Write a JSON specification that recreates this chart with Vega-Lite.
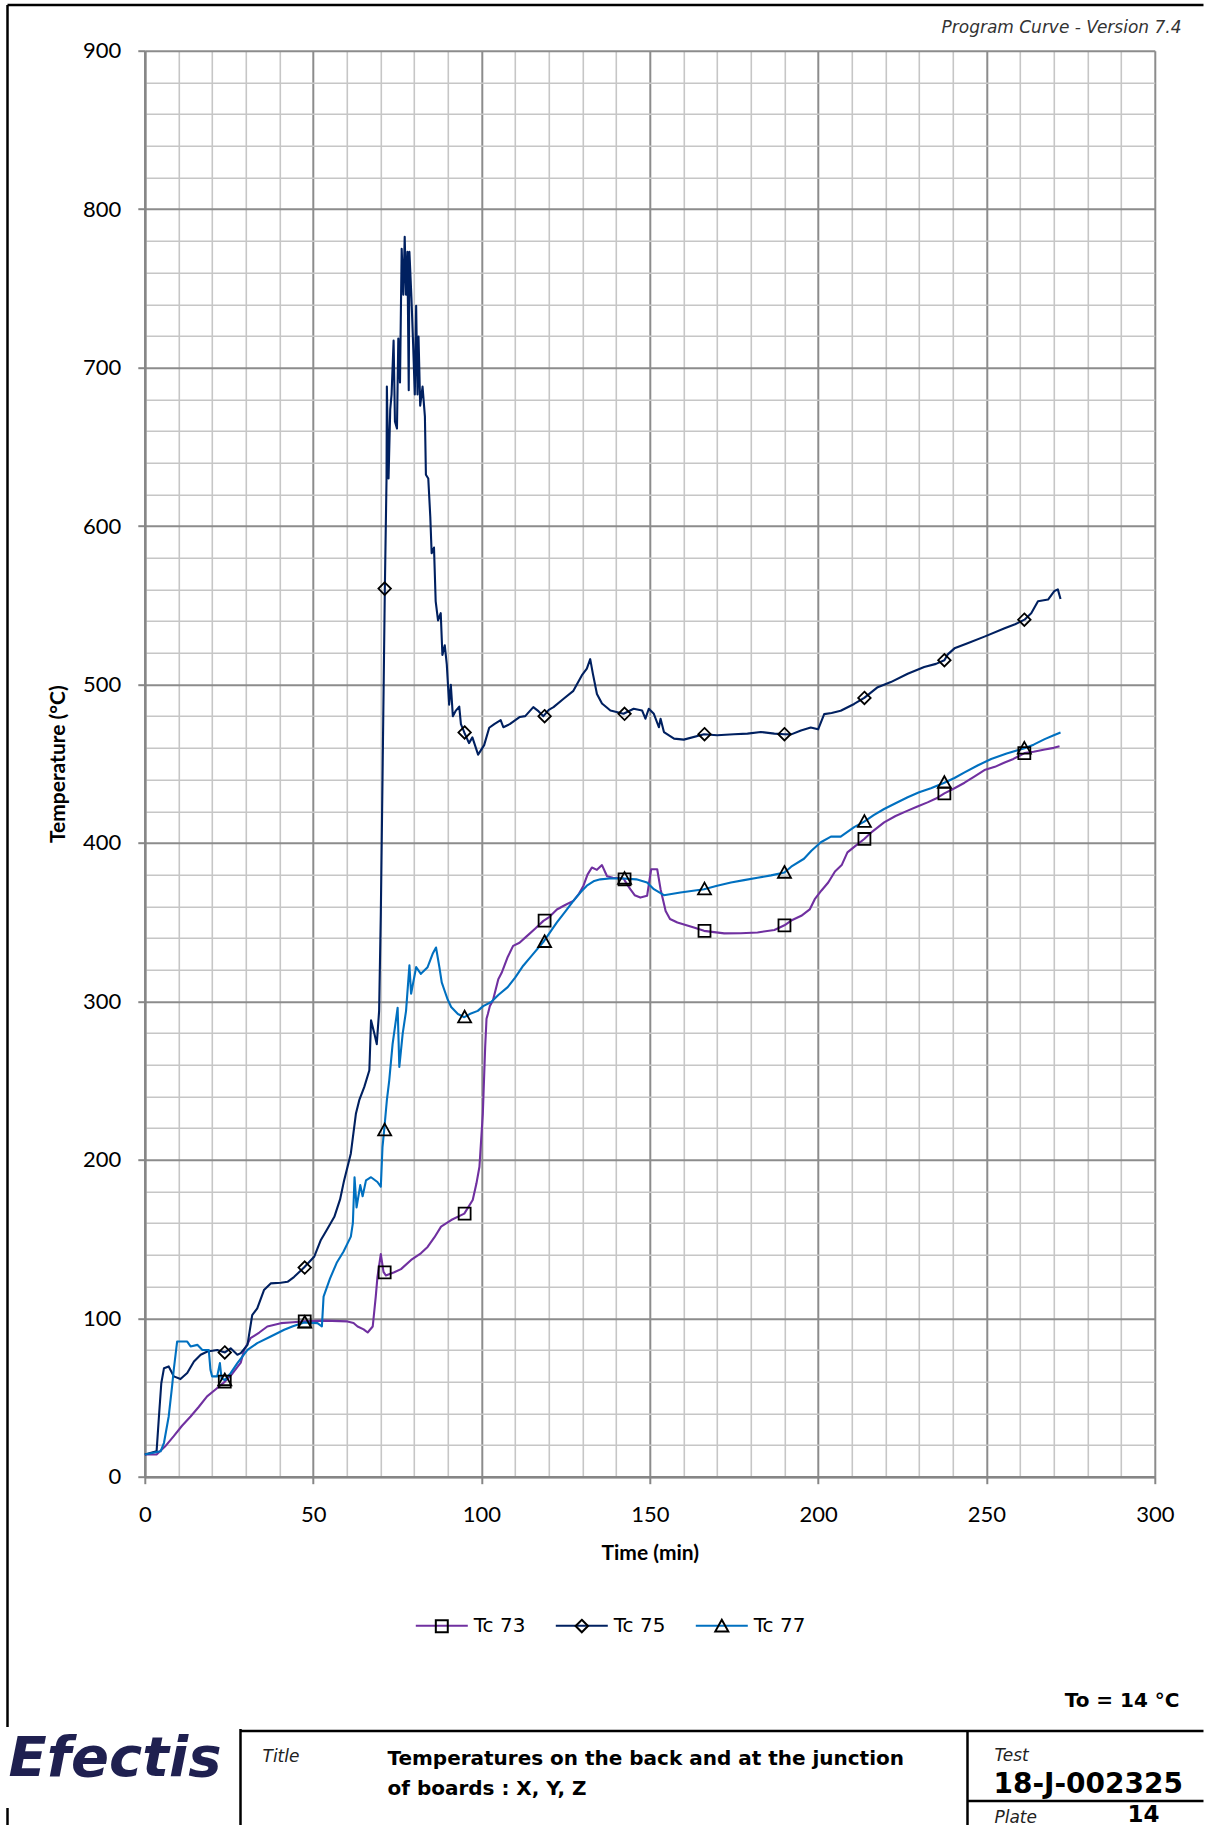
{
 "$schema": "https://vega.github.io/schema/vega-lite/v6.json",
 "background": "white",
 "padding": {"left": 5.8, "top": 3.7, "right": 0, "bottom": 0},
 "config": {"view": {"stroke": null}},
 "spacing": 213.3,
 "bounds": "flush",
 "resolve": {"scale": {"x": "independent", "y": "independent"}},
 "datasets": {
  "temps": [
   {"series":"Tc 73","time_min":0,"temp_c":14},{"series":"Tc 73","time_min":3.5,"temp_c":14},{"series":"Tc 73","time_min":6,"temp_c":19},{"series":"Tc 73","time_min":8.6,"temp_c":25.6},{"series":"Tc 73","time_min":11,"temp_c":32},{"series":"Tc 73","time_min":13.6,"temp_c":38},{"series":"Tc 73","time_min":16,"temp_c":44},{"series":"Tc 73","time_min":18.5,"temp_c":50.7},{"series":"Tc 73","time_min":21,"temp_c":55},{"series":"Tc 73","time_min":23.8,"temp_c":60},{"series":"Tc 73","time_min":26,"temp_c":65},{"series":"Tc 73","time_min":28.5,"temp_c":72},{"series":"Tc 73","time_min":29.5,"temp_c":80},{"series":"Tc 73","time_min":31.4,"temp_c":87.4},{"series":"Tc 73","time_min":34,"temp_c":91},{"series":"Tc 73","time_min":36.4,"temp_c":94.8},{"series":"Tc 73","time_min":40.4,"temp_c":96.9},{"series":"Tc 73","time_min":44,"temp_c":97.5},{"series":"Tc 73","time_min":47.3,"temp_c":98},{"series":"Tc 73","time_min":53.3,"temp_c":98.5},{"series":"Tc 73","time_min":60.2,"temp_c":98},{"series":"Tc 73","time_min":62,"temp_c":97},{"series":"Tc 73","time_min":63.2,"temp_c":94.8},{"series":"Tc 73","time_min":65,"temp_c":93},{"series":"Tc 73","time_min":66.2,"temp_c":91},{"series":"Tc 73","time_min":67.7,"temp_c":94.8},{"series":"Tc 73","time_min":68.6,"temp_c":113.6},{"series":"Tc 73","time_min":69.1,"temp_c":126},{"series":"Tc 73","time_min":70.1,"temp_c":140.5},{"series":"Tc 73","time_min":70.9,"temp_c":129.3},{"series":"Tc 73","time_min":71.6,"temp_c":127},{"series":"Tc 73","time_min":74.1,"temp_c":129},{"series":"Tc 73","time_min":76.1,"temp_c":131},{"series":"Tc 73","time_min":79.1,"temp_c":136.8},{"series":"Tc 73","time_min":82,"temp_c":141},{"series":"Tc 73","time_min":84,"temp_c":145},{"series":"Tc 73","time_min":86,"temp_c":151},{"series":"Tc 73","time_min":88,"temp_c":157.8},{"series":"Tc 73","time_min":91,"temp_c":162},{"series":"Tc 73","time_min":94.9,"temp_c":166},{"series":"Tc 73","time_min":97.4,"temp_c":174.6},{"series":"Tc 73","time_min":98.5,"temp_c":185},{"series":"Tc 73","time_min":99.4,"temp_c":195.6},{"series":"Tc 73","time_min":100.4,"temp_c":229},{"series":"Tc 73","time_min":101.1,"temp_c":271},{"series":"Tc 73","time_min":101.5,"temp_c":289},{"series":"Tc 73","time_min":101.9,"temp_c":292},{"series":"Tc 73","time_min":102.5,"temp_c":297},{"series":"Tc 73","time_min":103.4,"temp_c":300.6},{"series":"Tc 73","time_min":105,"temp_c":314},{"series":"Tc 73","time_min":106,"temp_c":318},{"series":"Tc 73","time_min":107.8,"temp_c":328},{"series":"Tc 73","time_min":109.4,"temp_c":335},{"series":"Tc 73","time_min":111.3,"temp_c":337},{"series":"Tc 73","time_min":113.4,"temp_c":341},{"series":"Tc 73","time_min":116,"temp_c":346},{"series":"Tc 73","time_min":118.4,"temp_c":350.8},{"series":"Tc 73","time_min":120,"temp_c":353},{"series":"Tc 73","time_min":122.4,"temp_c":358},{"series":"Tc 73","time_min":125,"temp_c":361},{"series":"Tc 73","time_min":127.3,"temp_c":363.4},{"series":"Tc 73","time_min":129,"temp_c":368},{"series":"Tc 73","time_min":130.3,"temp_c":373},{"series":"Tc 73","time_min":131.5,"temp_c":380},{"series":"Tc 73","time_min":132.8,"temp_c":384.5},{"series":"Tc 73","time_min":134.3,"temp_c":383},{"series":"Tc 73","time_min":135.8,"temp_c":386},{"series":"Tc 73","time_min":137.3,"temp_c":379},{"series":"Tc 73","time_min":139,"temp_c":378},{"series":"Tc 73","time_min":142.2,"temp_c":377.5},{"series":"Tc 73","time_min":143.2,"temp_c":374},{"series":"Tc 73","time_min":144.2,"temp_c":370.8},{"series":"Tc 73","time_min":145.5,"temp_c":367},{"series":"Tc 73","time_min":147.2,"temp_c":365.5},{"series":"Tc 73","time_min":149.2,"temp_c":366.6},{"series":"Tc 73","time_min":149.8,"temp_c":375},{"series":"Tc 73","time_min":150.4,"temp_c":383.4},{"series":"Tc 73","time_min":152.2,"temp_c":383.4},{"series":"Tc 73","time_min":153.2,"temp_c":370.8},{"series":"Tc 73","time_min":154.7,"temp_c":357},{"series":"Tc 73","time_min":156,"temp_c":352},{"series":"Tc 73","time_min":158.2,"temp_c":349.8},{"series":"Tc 73","time_min":163.1,"temp_c":346.6},{"series":"Tc 73","time_min":166.1,"temp_c":344.5},{"series":"Tc 73","time_min":172.1,"temp_c":342.9},{"series":"Tc 73","time_min":177,"temp_c":343},{"series":"Tc 73","time_min":182,"temp_c":343.5},{"series":"Tc 73","time_min":187,"temp_c":345},{"series":"Tc 73","time_min":190,"temp_c":348},{"series":"Tc 73","time_min":192,"temp_c":351},{"series":"Tc 73","time_min":195,"temp_c":354},{"series":"Tc 73","time_min":197.5,"temp_c":358},{"series":"Tc 73","time_min":199,"temp_c":364.5},{"series":"Tc 73","time_min":201,"temp_c":370},{"series":"Tc 73","time_min":203,"temp_c":375},{"series":"Tc 73","time_min":205,"temp_c":382},{"series":"Tc 73","time_min":207,"temp_c":386},{"series":"Tc 73","time_min":208.7,"temp_c":394},{"series":"Tc 73","time_min":211,"temp_c":398},{"series":"Tc 73","time_min":213.7,"temp_c":402.5},{"series":"Tc 73","time_min":216,"temp_c":407},{"series":"Tc 73","time_min":219.6,"temp_c":413},{"series":"Tc 73","time_min":223,"temp_c":417},{"series":"Tc 73","time_min":226.6,"temp_c":420.4},{"series":"Tc 73","time_min":229.5,"temp_c":423},{"series":"Tc 73","time_min":232.5,"temp_c":425.6},{"series":"Tc 73","time_min":235,"temp_c":428},{"series":"Tc 73","time_min":237.5,"temp_c":431.3},{"series":"Tc 73","time_min":240.5,"temp_c":434.5},{"series":"Tc 73","time_min":243.5,"temp_c":438},{"series":"Tc 73","time_min":246.5,"temp_c":442},{"series":"Tc 73","time_min":249.4,"temp_c":446},{"series":"Tc 73","time_min":252.5,"temp_c":448},{"series":"Tc 73","time_min":255.4,"temp_c":450.8},{"series":"Tc 73","time_min":258,"temp_c":453},{"series":"Tc 73","time_min":261.3,"temp_c":456.7},{"series":"Tc 73","time_min":264,"temp_c":457.5},{"series":"Tc 73","time_min":267.3,"temp_c":459},{"series":"Tc 73","time_min":270,"temp_c":460},{"series":"Tc 73","time_min":271.7,"temp_c":461},
   {"series":"Tc 75","time_min":0,"temp_c":14},{"series":"Tc 75","time_min":3.5,"temp_c":16},{"series":"Tc 75","time_min":4.2,"temp_c":38},{"series":"Tc 75","time_min":4.9,"temp_c":59},{"series":"Tc 75","time_min":5.7,"temp_c":68.5},{"series":"Tc 75","time_min":7.1,"temp_c":69.6},{"series":"Tc 75","time_min":8.6,"temp_c":63.3},{"series":"Tc 75","time_min":10.6,"temp_c":61.6},{"series":"Tc 75","time_min":12.6,"temp_c":65.4},{"series":"Tc 75","time_min":14.6,"temp_c":72.7},{"series":"Tc 75","time_min":16.6,"temp_c":77},{"series":"Tc 75","time_min":18.6,"temp_c":79},{"series":"Tc 75","time_min":21.5,"temp_c":80},{"series":"Tc 75","time_min":23.8,"temp_c":78.4},{"series":"Tc 75","time_min":25.5,"temp_c":81},{"series":"Tc 75","time_min":27.5,"temp_c":77},{"series":"Tc 75","time_min":28.5,"temp_c":78},{"series":"Tc 75","time_min":30.5,"temp_c":83.2},{"series":"Tc 75","time_min":31.9,"temp_c":102},{"series":"Tc 75","time_min":33.4,"temp_c":106.3},{"series":"Tc 75","time_min":35.4,"temp_c":117.8},{"series":"Tc 75","time_min":37.4,"temp_c":122},{"series":"Tc 75","time_min":40.4,"temp_c":122.4},{"series":"Tc 75","time_min":42.4,"temp_c":123},{"series":"Tc 75","time_min":44.3,"temp_c":126},{"series":"Tc 75","time_min":47.3,"temp_c":132},{"series":"Tc 75","time_min":50.3,"temp_c":138.8},{"series":"Tc 75","time_min":52.3,"temp_c":149.4},{"series":"Tc 75","time_min":54,"temp_c":155.5},{"series":"Tc 75","time_min":56.3,"temp_c":164},{"series":"Tc 75","time_min":58,"temp_c":175},{"series":"Tc 75","time_min":59.2,"temp_c":187},{"series":"Tc 75","time_min":60.5,"temp_c":198},{"series":"Tc 75","time_min":61.2,"temp_c":204},{"series":"Tc 75","time_min":62.7,"temp_c":229},{"series":"Tc 75","time_min":63.7,"temp_c":237.6},{"series":"Tc 75","time_min":65.2,"temp_c":246},{"series":"Tc 75","time_min":66.7,"temp_c":256.5},{"series":"Tc 75","time_min":67.2,"temp_c":288},{"series":"Tc 75","time_min":68.2,"temp_c":279.6},{"series":"Tc 75","time_min":68.9,"temp_c":273},{"series":"Tc 75","time_min":69.6,"temp_c":294},{"series":"Tc 75","time_min":70.1,"temp_c":355},{"series":"Tc 75","time_min":70.6,"temp_c":439},{"series":"Tc 75","time_min":71.3,"temp_c":560.5},{"series":"Tc 75","time_min":71.8,"temp_c":630},{"series":"Tc 75","time_min":71.9,"temp_c":688},{"series":"Tc 75","time_min":72.4,"temp_c":630},{"series":"Tc 75","time_min":72.9,"temp_c":673.6},{"series":"Tc 75","time_min":73.3,"temp_c":683},{"series":"Tc 75","time_min":73.9,"temp_c":717},{"series":"Tc 75","time_min":74.3,"temp_c":666},{"series":"Tc 75","time_min":74.9,"temp_c":661.5},{"series":"Tc 75","time_min":75.3,"temp_c":718.4},{"series":"Tc 75","time_min":75.8,"temp_c":690.6},{"series":"Tc 75","time_min":76.3,"temp_c":775},{"series":"Tc 75","time_min":76.8,"temp_c":746},{"series":"Tc 75","time_min":77.2,"temp_c":782.6},{"series":"Tc 75","time_min":77.6,"temp_c":746},{"series":"Tc 75","time_min":78,"temp_c":773},{"series":"Tc 75","time_min":78.4,"temp_c":685.7},{"series":"Tc 75","time_min":78.6,"temp_c":773},{"series":"Tc 75","time_min":79.2,"temp_c":744},{"series":"Tc 75","time_min":79.7,"temp_c":714.8},{"series":"Tc 75","time_min":80.2,"temp_c":683},{"series":"Tc 75","time_min":80.6,"temp_c":739},{"series":"Tc 75","time_min":81,"temp_c":683},{"series":"Tc 75","time_min":81.3,"temp_c":719.6},{"series":"Tc 75","time_min":81.8,"temp_c":676},{"series":"Tc 75","time_min":82.5,"temp_c":688},{"series":"Tc 75","time_min":83.2,"temp_c":669},{"series":"Tc 75","time_min":83.5,"temp_c":632.4},{"series":"Tc 75","time_min":84.2,"temp_c":630},{"series":"Tc 75","time_min":84.8,"temp_c":605.8},{"series":"Tc 75","time_min":85.2,"temp_c":582.8},{"series":"Tc 75","time_min":85.9,"temp_c":586.4},{"series":"Tc 75","time_min":86.4,"temp_c":552.5},{"series":"Tc 75","time_min":87.1,"temp_c":540.4},{"series":"Tc 75","time_min":87.9,"temp_c":545},{"series":"Tc 75","time_min":88.4,"temp_c":518.6},{"series":"Tc 75","time_min":89.1,"temp_c":524.7},{"series":"Tc 75","time_min":89.7,"temp_c":512.6},{"series":"Tc 75","time_min":90.4,"temp_c":487.2},{"series":"Tc 75","time_min":90.9,"temp_c":499.8},{"series":"Tc 75","time_min":91.5,"temp_c":480},{"series":"Tc 75","time_min":92.4,"temp_c":483.5},{"series":"Tc 75","time_min":93.4,"temp_c":486},{"series":"Tc 75","time_min":93.9,"temp_c":475},{"series":"Tc 75","time_min":94.9,"temp_c":469.7},{"series":"Tc 75","time_min":96.3,"temp_c":463},{"series":"Tc 75","time_min":97.3,"temp_c":466.6},{"series":"Tc 75","time_min":99,"temp_c":455.7},{"series":"Tc 75","time_min":100.8,"temp_c":461.7},{"series":"Tc 75","time_min":102.3,"temp_c":472.7},{"series":"Tc 75","time_min":103.8,"temp_c":475},{"series":"Tc 75","time_min":105.7,"temp_c":477.5},{"series":"Tc 75","time_min":106.5,"temp_c":473},{"series":"Tc 75","time_min":108.4,"temp_c":475},{"series":"Tc 75","time_min":111.4,"temp_c":479.5},{"series":"Tc 75","time_min":113,"temp_c":480},{"series":"Tc 75","time_min":115.4,"temp_c":485.7},{"series":"Tc 75","time_min":117,"temp_c":483},{"series":"Tc 75","time_min":118.4,"temp_c":480},{"series":"Tc 75","time_min":120,"temp_c":484},{"series":"Tc 75","time_min":121.4,"temp_c":485.7},{"series":"Tc 75","time_min":124.4,"temp_c":491},{"series":"Tc 75","time_min":127.3,"temp_c":496},{"series":"Tc 75","time_min":129.8,"temp_c":505.7},{"series":"Tc 75","time_min":131.3,"temp_c":510},{"series":"Tc 75","time_min":132.3,"temp_c":516},{"series":"Tc 75","time_min":133.1,"temp_c":506.7},{"series":"Tc 75","time_min":134.3,"temp_c":494},{"series":"Tc 75","time_min":135.8,"temp_c":488},{"series":"Tc 75","time_min":138.3,"temp_c":483.6},{"series":"Tc 75","time_min":142.2,"temp_c":481.5},{"series":"Tc 75","time_min":145.2,"temp_c":484.7},{"series":"Tc 75","time_min":147.7,"temp_c":483.6},{"series":"Tc 75","time_min":148.7,"temp_c":478.4},{"series":"Tc 75","time_min":149.7,"temp_c":484.7},{"series":"Tc 75","time_min":151.2,"temp_c":481.5},{"series":"Tc 75","time_min":152.7,"temp_c":473},{"series":"Tc 75","time_min":153.2,"temp_c":478.4},{"series":"Tc 75","time_min":154.2,"temp_c":470},{"series":"Tc 75","time_min":157.2,"temp_c":465.8},{"series":"Tc 75","time_min":160.1,"temp_c":465.2},{"series":"Tc 75","time_min":166.1,"temp_c":468.6},{"series":"Tc 75","time_min":170,"temp_c":468},{"series":"Tc 75","time_min":175,"temp_c":468.6},{"series":"Tc 75","time_min":179,"temp_c":469},{"series":"Tc 75","time_min":183,"temp_c":470},{"series":"Tc 75","time_min":187,"temp_c":469},{"series":"Tc 75","time_min":190,"temp_c":468.6},{"series":"Tc 75","time_min":192,"temp_c":468.5},{"series":"Tc 75","time_min":194.9,"temp_c":471},{"series":"Tc 75","time_min":197.8,"temp_c":472.8},{"series":"Tc 75","time_min":200,"temp_c":471.7},{"series":"Tc 75","time_min":201.8,"temp_c":481.3},{"series":"Tc 75","time_min":204,"temp_c":482},{"series":"Tc 75","time_min":206.7,"temp_c":483.4},{"series":"Tc 75","time_min":210.7,"temp_c":487.7},{"series":"Tc 75","time_min":213.7,"temp_c":491.5},{"series":"Tc 75","time_min":217.7,"temp_c":498.3},{"series":"Tc 75","time_min":221.6,"temp_c":501.5},{"series":"Tc 75","time_min":226.6,"temp_c":506.8},{"series":"Tc 75","time_min":231.5,"temp_c":511},{"series":"Tc 75","time_min":235,"temp_c":513},{"series":"Tc 75","time_min":237.5,"temp_c":515.3},{"series":"Tc 75","time_min":238.5,"temp_c":519},{"series":"Tc 75","time_min":240.5,"temp_c":522.8},{"series":"Tc 75","time_min":244.4,"temp_c":526},{"series":"Tc 75","time_min":249.4,"temp_c":530.2},{"series":"Tc 75","time_min":255.4,"temp_c":535.5},{"series":"Tc 75","time_min":258.5,"temp_c":538},{"series":"Tc 75","time_min":261.3,"temp_c":540.9},{"series":"Tc 75","time_min":263.3,"temp_c":545},{"series":"Tc 75","time_min":265.3,"temp_c":552.5},{"series":"Tc 75","time_min":268.3,"temp_c":553.6},{"series":"Tc 75","time_min":270.2,"temp_c":559},{"series":"Tc 75","time_min":271.2,"temp_c":560},{"series":"Tc 75","time_min":272,"temp_c":554},
   {"series":"Tc 77","time_min":0,"temp_c":14},{"series":"Tc 77","time_min":4.7,"temp_c":16},{"series":"Tc 77","time_min":5.7,"temp_c":21.4},{"series":"Tc 77","time_min":7.1,"temp_c":38},{"series":"Tc 77","time_min":8.1,"temp_c":57},{"series":"Tc 77","time_min":8.6,"temp_c":67.5},{"series":"Tc 77","time_min":9.6,"temp_c":85.3},{"series":"Tc 77","time_min":12.6,"temp_c":85.3},{"series":"Tc 77","time_min":13.6,"temp_c":82.2},{"series":"Tc 77","time_min":15.6,"temp_c":83.2},{"series":"Tc 77","time_min":17.1,"temp_c":80},{"series":"Tc 77","time_min":19,"temp_c":80},{"series":"Tc 77","time_min":19.5,"temp_c":67.5},{"series":"Tc 77","time_min":20,"temp_c":63.3},{"series":"Tc 77","time_min":21.5,"temp_c":63.3},{"series":"Tc 77","time_min":22.3,"temp_c":71.7},{"series":"Tc 77","time_min":22.8,"temp_c":62},{"series":"Tc 77","time_min":23.8,"temp_c":61},{"series":"Tc 77","time_min":25.5,"temp_c":65.4},{"series":"Tc 77","time_min":27.5,"temp_c":71.7},{"series":"Tc 77","time_min":30.5,"temp_c":80},{"series":"Tc 77","time_min":33.4,"temp_c":84.3},{"series":"Tc 77","time_min":37.4,"temp_c":88.5},{"series":"Tc 77","time_min":41.4,"temp_c":92.7},{"series":"Tc 77","time_min":44,"temp_c":95},{"series":"Tc 77","time_min":47.3,"temp_c":97.3},{"series":"Tc 77","time_min":51.3,"temp_c":96.9},{"series":"Tc 77","time_min":52.6,"temp_c":94.8},{"series":"Tc 77","time_min":53.1,"temp_c":113.6},{"series":"Tc 77","time_min":55,"temp_c":125},{"series":"Tc 77","time_min":57,"temp_c":135},{"series":"Tc 77","time_min":59,"temp_c":142},{"series":"Tc 77","time_min":61.2,"temp_c":151.5},{"series":"Tc 77","time_min":61.8,"temp_c":160},{"series":"Tc 77","time_min":62.3,"temp_c":189},{"series":"Tc 77","time_min":62.9,"temp_c":170},{"series":"Tc 77","time_min":64,"temp_c":184},{"series":"Tc 77","time_min":64.7,"temp_c":177},{"series":"Tc 77","time_min":65.7,"temp_c":187},{"series":"Tc 77","time_min":67.2,"temp_c":189},{"series":"Tc 77","time_min":69.1,"temp_c":186},{"series":"Tc 77","time_min":70.1,"temp_c":183},{"series":"Tc 77","time_min":70.6,"temp_c":208},{"series":"Tc 77","time_min":71.1,"temp_c":218.7},{"series":"Tc 77","time_min":71.9,"temp_c":237.6},{"series":"Tc 77","time_min":72.6,"temp_c":250},{"series":"Tc 77","time_min":73.6,"temp_c":273},{"series":"Tc 77","time_min":75.1,"temp_c":296},{"series":"Tc 77","time_min":75.6,"temp_c":258.6},{"series":"Tc 77","time_min":76.6,"temp_c":279.6},{"series":"Tc 77","time_min":77.6,"temp_c":294},{"series":"Tc 77","time_min":78.6,"temp_c":322.7},{"series":"Tc 77","time_min":79.1,"temp_c":304.8},{"series":"Tc 77","time_min":80.6,"temp_c":321.6},{"series":"Tc 77","time_min":82,"temp_c":317.4},{"series":"Tc 77","time_min":84,"temp_c":321.6},{"series":"Tc 77","time_min":85.5,"temp_c":330},{"series":"Tc 77","time_min":86.5,"temp_c":334},{"series":"Tc 77","time_min":87.5,"temp_c":321.6},{"series":"Tc 77","time_min":88.2,"temp_c":312},{"series":"Tc 77","time_min":89,"temp_c":307},{"series":"Tc 77","time_min":90,"temp_c":301},{"series":"Tc 77","time_min":91,"temp_c":296.4},{"series":"Tc 77","time_min":93,"temp_c":292},{"series":"Tc 77","time_min":94.9,"temp_c":290},{"series":"Tc 77","time_min":96.5,"temp_c":292},{"series":"Tc 77","time_min":98.9,"temp_c":294},{"series":"Tc 77","time_min":100.5,"temp_c":297},{"series":"Tc 77","time_min":102.9,"temp_c":299.6},{"series":"Tc 77","time_min":105,"temp_c":304},{"series":"Tc 77","time_min":107.8,"temp_c":309},{"series":"Tc 77","time_min":110,"temp_c":315},{"series":"Tc 77","time_min":112.4,"temp_c":322.5},{"series":"Tc 77","time_min":115,"temp_c":329},{"series":"Tc 77","time_min":118.4,"temp_c":337.6},{"series":"Tc 77","time_min":120.5,"temp_c":344},{"series":"Tc 77","time_min":122.4,"temp_c":349.8},{"series":"Tc 77","time_min":125,"temp_c":357},{"series":"Tc 77","time_min":127.3,"temp_c":363.4},{"series":"Tc 77","time_min":129.5,"temp_c":369},{"series":"Tc 77","time_min":131.3,"temp_c":373},{"series":"Tc 77","time_min":133.5,"temp_c":376},{"series":"Tc 77","time_min":135.3,"temp_c":377},{"series":"Tc 77","time_min":138,"temp_c":377.5},{"series":"Tc 77","time_min":142.2,"temp_c":377.5},{"series":"Tc 77","time_min":146,"temp_c":377},{"series":"Tc 77","time_min":149.2,"temp_c":375},{"series":"Tc 77","time_min":151.2,"temp_c":370.8},{"series":"Tc 77","time_min":154.2,"temp_c":367},{"series":"Tc 77","time_min":159.1,"temp_c":368.7},{"series":"Tc 77","time_min":166.1,"temp_c":370.8},{"series":"Tc 77","time_min":170,"temp_c":373},{"series":"Tc 77","time_min":174.1,"temp_c":375},{"series":"Tc 77","time_min":178,"temp_c":376.5},{"series":"Tc 77","time_min":182,"temp_c":378},{"series":"Tc 77","time_min":186,"temp_c":379.5},{"series":"Tc 77","time_min":190,"temp_c":381.3},{"series":"Tc 77","time_min":192,"temp_c":385},{"series":"Tc 77","time_min":195.8,"temp_c":390},{"series":"Tc 77","time_min":198,"temp_c":395},{"series":"Tc 77","time_min":200.8,"temp_c":400.4},{"series":"Tc 77","time_min":203.8,"temp_c":404},{"series":"Tc 77","time_min":206.7,"temp_c":404},{"series":"Tc 77","time_min":210.7,"temp_c":410},{"series":"Tc 77","time_min":213.7,"temp_c":413.4},{"series":"Tc 77","time_min":216.5,"temp_c":417.5},{"series":"Tc 77","time_min":219.6,"temp_c":421.4},{"series":"Tc 77","time_min":223,"temp_c":425},{"series":"Tc 77","time_min":226.6,"temp_c":428.8},{"series":"Tc 77","time_min":230,"temp_c":432},{"series":"Tc 77","time_min":233.5,"temp_c":434.5},{"series":"Tc 77","time_min":237.5,"temp_c":438},{"series":"Tc 77","time_min":240.5,"temp_c":441},{"series":"Tc 77","time_min":243.5,"temp_c":444.5},{"series":"Tc 77","time_min":247.5,"temp_c":449},{"series":"Tc 77","time_min":251.4,"temp_c":453},{"series":"Tc 77","time_min":256,"temp_c":456.5},{"series":"Tc 77","time_min":261.3,"temp_c":459.7},{"series":"Tc 77","time_min":264,"temp_c":462},{"series":"Tc 77","time_min":267.3,"temp_c":465.5},{"series":"Tc 77","time_min":270,"temp_c":468},{"series":"Tc 77","time_min":272,"temp_c":469.7}
  ],
  "markers": [
   {"series":"Tc 73","time_min":23.75,"temp_c":60},{"series":"Tc 73","time_min":47.5,"temp_c":98},{"series":"Tc 73","time_min":71.25,"temp_c":129},{"series":"Tc 73","time_min":95,"temp_c":166},{"series":"Tc 73","time_min":118.75,"temp_c":351},{"series":"Tc 73","time_min":142.5,"temp_c":377},{"series":"Tc 73","time_min":166.25,"temp_c":344.5},{"series":"Tc 73","time_min":190,"temp_c":348},{"series":"Tc 73","time_min":213.75,"temp_c":402.5},{"series":"Tc 73","time_min":237.5,"temp_c":431.3},{"series":"Tc 73","time_min":261.25,"temp_c":456.7},
   {"series":"Tc 75","time_min":23.75,"temp_c":78.4},{"series":"Tc 75","time_min":47.5,"temp_c":132},{"series":"Tc 75","time_min":71.25,"temp_c":560.5},{"series":"Tc 75","time_min":95,"temp_c":469.7},{"series":"Tc 75","time_min":118.75,"temp_c":480},{"series":"Tc 75","time_min":142.5,"temp_c":481.5},{"series":"Tc 75","time_min":166.25,"temp_c":468.6},{"series":"Tc 75","time_min":190,"temp_c":468.6},{"series":"Tc 75","time_min":213.75,"temp_c":491.5},{"series":"Tc 75","time_min":237.5,"temp_c":515.3},{"series":"Tc 75","time_min":261.25,"temp_c":540.9},
   {"series":"Tc 77","time_min":23.75,"temp_c":61},{"series":"Tc 77","time_min":47.5,"temp_c":97.3},{"series":"Tc 77","time_min":71.25,"temp_c":218.7},{"series":"Tc 77","time_min":95,"temp_c":290},{"series":"Tc 77","time_min":118.75,"temp_c":337.6},{"series":"Tc 77","time_min":142.5,"temp_c":377.5},{"series":"Tc 77","time_min":166.25,"temp_c":370.8},{"series":"Tc 77","time_min":190,"temp_c":381.3},{"series":"Tc 77","time_min":213.75,"temp_c":413.4},{"series":"Tc 77","time_min":237.5,"temp_c":438},{"series":"Tc 77","time_min":261.25,"temp_c":459.7}
  ]
 },
 "vconcat": [
  {
   "width": 1010,
   "height": 1426,
   "layer": [
    {
     "data": {"name": "temps"},
     "mark": {"type": "line", "strokeWidth": 2.1, "strokeJoin": "round"},
     "encoding": {
      "x": {
       "field": "time_min", "type": "quantitative",
       "scale": {"domain": [0, 300], "nice": false, "zero": false},
       "axis": {
        "values": [0,10,20,30,40,50,60,70,80,90,100,110,120,130,140,150,160,170,180,190,200,210,220,230,240,250,260,270,280,290,300],
        "tickCount": 1000,
        "format": "d",
        "grid": true,
        "gridColor": {"condition": {"test": "datum.value % 50 === 0", "value": "#8c8c8c"}, "value": "#c6c6c6"},
        "gridWidth": {"condition": {"test": "datum.value % 50 === 0", "value": 2}, "value": 1.6},
        "labelExpr": "datum.value % 50 === 0 ? datum.label : ''",
        "tickOpacity": {"condition": {"test": "datum.value % 50 === 0", "value": 1}, "value": 0},
        "tickSize": 7, "tickWidth": 2, "tickColor": "#868686",
        "domainColor": "#868686", "domainWidth": 2.5,
        "labelFont": "Lato", "labelFontSize": 22, "labelColor": "#000000", "labelPadding": 21,
        "labelOverlap": false, "labelFlush": false,
        "title": "Time (min)", "titleFont": "Lato", "titleFontSize": 21, "titleFontWeight": "bold", "titleColor": "#000000", "titlePadding": 17
       }
      },
      "y": {
       "field": "temp_c", "type": "quantitative",
       "scale": {"domain": [0, 900], "nice": false, "zero": false},
       "axis": {
        "values": [0,20,40,60,80,100,120,140,160,180,200,220,240,260,280,300,320,340,360,380,400,420,440,460,480,500,520,540,560,580,600,620,640,660,680,700,720,740,760,780,800,820,840,860,880,900],
        "tickCount": 1000,
        "format": "d",
        "grid": true,
        "gridColor": {"condition": {"test": "datum.value % 100 === 0", "value": "#8c8c8c"}, "value": "#c6c6c6"},
        "gridWidth": {"condition": {"test": "datum.value % 100 === 0", "value": 2}, "value": 1.6},
        "labelExpr": "datum.value % 100 === 0 ? datum.label : ''",
        "tickOpacity": {"condition": {"test": "datum.value % 100 === 0", "value": 1}, "value": 0},
        "tickSize": 7, "tickWidth": 2, "tickColor": "#868686",
        "domainColor": "#868686", "domainWidth": 2.5,
        "labelFont": "Lato", "labelFontSize": 22, "labelColor": "#000000", "labelPadding": 17,
        "labelOverlap": false, "labelFlush": false,
        "title": "Temperature (°C)", "titleFont": "Lato", "titleFontSize": 21, "titleFontWeight": "bold", "titleColor": "#000000", "titlePadding": 14
       }
      },
      "color": {
       "field": "series", "type": "nominal",
       "scale": {"range": ["#7030A0", "#002060", "#0070C0"]},
       "legend": {
        "orient": "none", "legendX": 270, "legendY": 1548, "direction": "horizontal", "title": null,
        "symbolType": "stroke", "symbolSize": 2704, "symbolStrokeWidth": 2,
        "labelFont": "DejaVu Sans", "labelFontSize": 20, "labelColor": "#000000", "labelOffset": 5,
        "columnPadding": 26, "padding": 0
       }
      }
     }
    },
    {
     "data": {"name": "markers"},
     "mark": {"type": "point", "filled": false, "size": 2704, "strokeWidth": 1.8, "color": "#000000", "opacity": 1},
     "encoding": {
      "x": {"field": "time_min", "type": "quantitative"},
      "y": {"field": "temp_c", "type": "quantitative"},
      "shape": {
       "field": "series", "type": "nominal",
       "scale": {"range": ["M-0.23,-0.23L0.23,-0.23L0.23,0.23L-0.23,0.23Z", "M0,-0.24L0.24,0L0,0.24L-0.24,0Z", "M0,-0.25L0.25,0.2L-0.25,0.2Z"]},
       "legend": {
        "orient": "none", "legendX": 270, "legendY": 1548, "direction": "horizontal", "title": null,
        "symbolSize": 2704, "symbolStrokeWidth": 2, "symbolStrokeColor": "#000000", "symbolFillColor": "transparent",
        "labelFont": "DejaVu Sans", "labelFontSize": 20, "labelExpr": "''", "labelOffset": 5,
        "columnPadding": 81, "padding": 0
       }
      }
     }
    }
   ]
  },
  {
   "width": 1059.7,
   "height": 137,
   "layer": [
    {
     "data": {"values": [
      {"x": 7, "x2": 1203, "y": 5, "y2": 5},
      {"x": 7, "x2": 7, "y": 5, "y2": 1727},
      {"x": 7, "x2": 7, "y": 1808, "y2": 1825},
      {"x": 240, "x2": 1203, "y": 1731, "y2": 1731},
      {"x": 240, "x2": 240, "y": 1729, "y2": 1825},
      {"x": 967, "x2": 967, "y": 1731, "y2": 1825},
      {"x": 967, "x2": 1203, "y": 1801, "y2": 1801}
     ]},
     "mark": {"type": "rule", "color": "#000000", "strokeWidth": 2.5},
     "encoding": {
      "x": {"field": "x", "type": "quantitative", "scale": {"domain": [144.3, 1204], "nice": false, "zero": false}, "axis": null},
      "x2": {"field": "x2"},
      "y": {"field": "y", "type": "quantitative", "scale": {"domain": [1827, 1690], "nice": false, "zero": false}, "axis": null},
      "y2": {"field": "y2"}
     }
    },
    {
     "data": {"values": [
      {"label": "Title", "x": 262, "y": 1762},
      {"label": "Test", "x": 994, "y": 1761},
      {"label": "Plate", "x": 994, "y": 1823}
     ]},
     "mark": {"type": "text", "align": "left", "baseline": "alphabetic", "font": "DejaVu Sans", "fontStyle": "italic", "fontSize": 17, "color": "#222222"},
     "encoding": {"x": {"field": "x", "type": "quantitative"}, "y": {"field": "y", "type": "quantitative"}, "text": {"field": "label"}}
    },
    {
     "data": {"values": [
      {"label": "Temperatures on the back and at the junction", "x": 387, "y": 1765},
      {"label": "of boards : X, Y, Z", "x": 387, "y": 1795}
     ]},
     "mark": {"type": "text", "align": "left", "baseline": "alphabetic", "font": "DejaVu Sans", "fontWeight": "bold", "fontSize": 20, "color": "#000000"},
     "encoding": {"x": {"field": "x", "type": "quantitative"}, "y": {"field": "y", "type": "quantitative"}, "text": {"field": "label"}}
    },
    {
     "data": {"values": [{"label": "To = 14 °C", "x": 1179, "y": 1707}]},
     "mark": {"type": "text", "align": "right", "baseline": "alphabetic", "font": "DejaVu Sans", "fontWeight": "bold", "fontSize": 20, "color": "#000000"},
     "encoding": {"x": {"field": "x", "type": "quantitative"}, "y": {"field": "y", "type": "quantitative"}, "text": {"field": "label"}}
    },
    {
     "data": {"values": [{"label": "18-J-002325", "x": 993, "y": 1793}]},
     "mark": {"type": "text", "align": "left", "baseline": "alphabetic", "font": "DejaVu Sans", "fontWeight": "bold", "fontSize": 28, "color": "#000000"},
     "encoding": {"x": {"field": "x", "type": "quantitative"}, "y": {"field": "y", "type": "quantitative"}, "text": {"field": "label"}}
    },
    {
     "data": {"values": [{"label": "14", "x": 1127, "y": 1822}]},
     "mark": {"type": "text", "align": "left", "baseline": "alphabetic", "font": "DejaVu Sans", "fontWeight": "bold", "fontSize": 23, "color": "#000000"},
     "encoding": {"x": {"field": "x", "type": "quantitative"}, "y": {"field": "y", "type": "quantitative"}, "text": {"field": "label"}}
    },
    {
     "data": {"values": [{"label": "Program Curve - Version 7.4", "x": 1181, "y": 33}]},
     "mark": {"type": "text", "align": "right", "baseline": "alphabetic", "font": "DejaVu Sans", "fontStyle": "italic", "fontSize": 17, "color": "#333333"},
     "encoding": {"x": {"field": "x", "type": "quantitative"}, "y": {"field": "y", "type": "quantitative"}, "text": {"field": "label"}}
    },
    {
     "data": {"values": [{"label": "Efectis", "x": 8, "y": 1776}]},
     "mark": {"type": "text", "align": "left", "baseline": "alphabetic", "font": "DejaVu Sans", "fontStyle": "italic", "fontWeight": "bold", "fontSize": 56, "color": "#1f2050"},
     "encoding": {"x": {"field": "x", "type": "quantitative"}, "y": {"field": "y", "type": "quantitative"}, "text": {"field": "label"}}
    }
   ]
  }
 ]
}
